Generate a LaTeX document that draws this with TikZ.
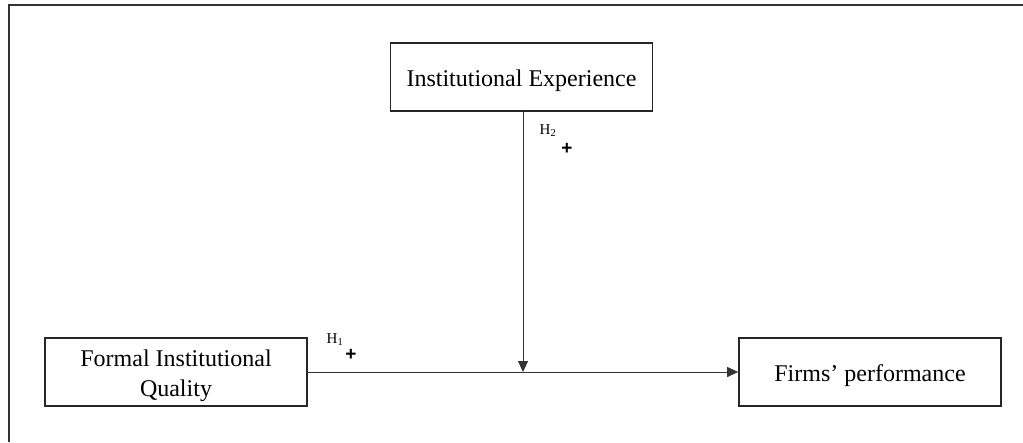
\documentclass[tikz,border=0pt]{standalone}
\usepackage{fontspec}
\setmainfont{Liberation Serif}
\newfontfamily\plusfont{Liberation Sans}
\usetikzlibrary{arrows.meta}
\newcommand{\lowertext}[1]{\raisebox{-3.5pt}[\height][\depth]{#1}}
\begin{document}
\begin{tikzpicture}[x=1pt,y=-1pt,
  box/.style={draw=black!85,line width=1.6pt,inner sep=0pt,align=center,font=\fontsize{24}{30}\selectfont,minimum width=262pt,minimum height=68pt},
  conn/.style={line width=0.9pt,draw=black!80,-{Triangle[length=11pt,width=10pt]}},
  hlab/.style={inner sep=0pt,font=\fontsize{15}{16}\selectfont},
  plus/.style={inner sep=0pt,font=\plusfont\fontsize{19}{20}\selectfont\bfseries}]
\useasboundingbox (0,0) rectangle (1023,442);
\draw[line width=1.2pt,draw=black!80] (9,442) -- (9,5) -- (1023,5);
\node[box] (ie) at (521.5,77) {\lowertext{Institutional Experience}};
\node[box] (fiq) at (176,372) {\lowertext{\begin{tabular}{@{}c@{}}Formal Institutional\\Quality\end{tabular}}};
\node[box] (fp) at (870,372) {\lowertext{Firms’ performance}};
\draw[conn] (fiq.east) -- (fp.west);
\coordinate (mid) at (523,372);
\draw[conn] (523,111) -- (mid);
\node[hlab] (h1) at (335,340) {H\textsubscript{1}};
\node[plus] (p1) at (351,355) {+};
\node[hlab] (h2) at (548,131) {H\textsubscript{2}};
\node[plus] (p2) at (567,149) {+};
\end{tikzpicture}
\end{document}
